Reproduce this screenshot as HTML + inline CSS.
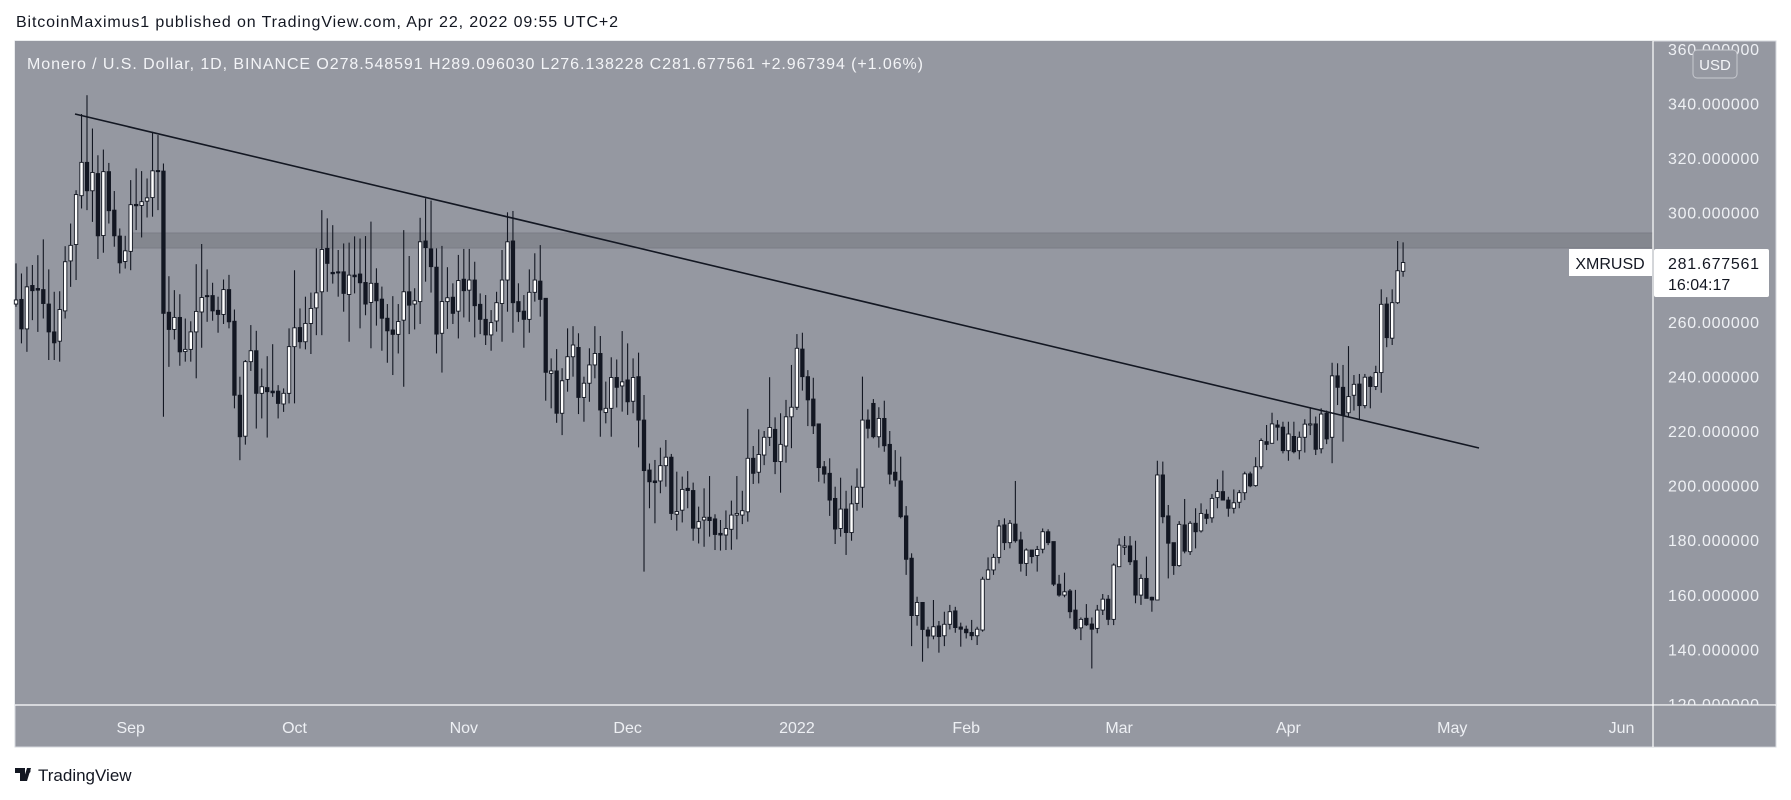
<!DOCTYPE html>
<html><head><meta charset="utf-8"><style>
html,body{margin:0;padding:0;background:#fff;width:1791px;height:800px;overflow:hidden}
svg{display:block}
text{font-family:"Liberation Sans",sans-serif}
</style></head><body>
<svg id="c" width="1791" height="800" viewBox="0 0 1791 800" xmlns="http://www.w3.org/2000/svg">
<text x="16" y="27" font-size="16" fill="#131722" textLength="602">BitcoinMaximus1 published on TradingView.com, Apr 22, 2022 09:55 UTC+2</text>
<rect x="15" y="41" width="1761" height="706" fill="#9598a1" stroke="#d6d8de" stroke-width="1"/>
<rect x="15" y="41" width="1638" height="664" fill="#9598a1"/>
<rect x="132" y="233" width="1521" height="15" fill="#84878f"/>
<line x1="132" y1="233" x2="1653" y2="233" stroke="#7a7d86"/>
<line x1="132" y1="248" x2="1653" y2="248" stroke="#7a7d86"/>
<g id="candles"></g>
<line x1="75" y1="114" x2="1479" y2="448" stroke="#131722" stroke-width="1.6"/>
<line x1="1653" y1="41" x2="1653" y2="747" stroke="#fff" stroke-width="1.2"/>
<line x1="15" y1="705" x2="1776" y2="705" stroke="#fff" stroke-width="1.2"/>
<g id="yaxis"></g>
<g id="xaxis"></g>
<text x="27" y="69" font-size="16" fill="#f3f4f7" textLength="896">Monero / U.S. Dollar, 1D, BINANCE  O278.548591  H289.096030  L276.138228  C281.677561  +2.967394 (+1.06%)</text>
<rect x="1693" y="50" width="44" height="28" rx="4" fill="#9598a1" stroke="#c8cad0"/>
<text x="1715" y="70" font-size="15" fill="#f3f4f7" text-anchor="middle">USD</text>
<rect x="1569" y="249" width="83" height="27" fill="#fff"/>
<text x="1610" y="269" font-size="16" fill="#131722" text-anchor="middle">XMRUSD</text>
<rect x="1654" y="249" width="115" height="48" rx="2" fill="#fff"/>
<text x="1668" y="269" font-size="16" fill="#131722" textLength="91">281.677561</text>
<text x="1668" y="290" font-size="16" fill="#131722">16:04:17</text>
<g>
<path d="M15 768h10v13h-5v-8h-5z M27 768h4l-4 13h-4z" fill="#131722"/>
<circle cx="28.5" cy="771" r="2" fill="#131722"/>
<text x="38" y="781" font-size="17" fill="#131722">TradingView</text>
</g>
</svg>
<script>
const opens=[266.5,268.2,257.4,273.3,272.2,271.8,266.5,256.3,252.9,264.0,282.3,288.3,306.2,318.4,308.0,314.3,291.6,315.0,300.9,291.4,282.1,285.8,303,302.6,304.2,305.5,315.4,315.2,263.5,257.2,261.6,249.1,249.9,256.3,263.6,269.6,269.6,264.2,262.7,271.8,260.2,233.1,218.1,245.4,249.4,233.8,235.9,234.6,234.6,229.9,233.8,250.9,257.9,252.7,259.4,265.1,271.0,286.9,278.1,278.3,278.3,270.0,277.1,277.5,274.4,267.1,274.1,268.3,261.3,257.0,255.4,260.6,271.0,266.5,267.4,289.6,286.7,280.0,255.8,267.4,269.0,263.9,275.6,271.6,275.3,266.4,260.9,255.2,260.3,266.7,275.3,289.6,267.4,263.9,260.9,270.8,274.9,268.6,241.1,242.0,226.5,238.9,247.2,250.6,232.3,237.5,244.2,248.4,226.8,228.3,239.6,236.5,238.7,230.9,239.9,224.0,205.7,201.7,201.7,207.3,210.4,189.5,191.0,199.0,198.2,184.4,187.4,188.4,187.8,182.5,181.9,184.0,189.2,189.2,190.4,210.0,204.9,211.2,217.7,220.6,208.8,214.5,225.2,228.7,250.0,239.9,231.7,222.6,206.9,204.5,195.3,184.3,191.4,182.8,193.5,199.4,224.0,230.1,217.9,224.6,215.1,204.9,201.7,188.9,173.4,152.4,157.2,147.1,144.9,148.6,145.0,149.2,154.1,148.2,147.4,146.2,145.0,147.1,165.7,169.1,173.7,185.6,179.1,185.9,180.1,171.5,176.4,174.4,176.7,183.1,179.5,163.9,159.9,161.4,154.4,147.9,151.4,149.3,147.7,154.4,158.4,151.0,170.3,177.4,177.9,172.5,159.9,166.0,159.1,158.1,203.9,188.9,179.1,170.7,185.6,175.8,186.2,183.4,189.5,188.2,195.6,197.8,194.7,191.7,193.9,197.4,204.3,200.0,206.9,216.1,215.5,222.2,221.4,212.8,218.0,212.8,217.7,222.2,222.6,213.5,226.5,217.7,240.2,236.0,226.7,233.1,237.2,229.3,239.7,236.3,241.4,266.5,254.0,267.0,278.5];
const closes=[268,257.4,272.8,271.4,271.6,266.7,256.3,252.3,264.5,282.0,288.0,306.6,318.4,308.0,314.7,291.5,315.0,300.7,291.5,281.6,286.0,302.9,302.5,304.0,305.4,315.3,315.0,263.1,257.2,261.6,249.0,249.9,256.3,263.8,268.9,269.2,264.0,262.7,271.8,260.0,233.1,217.9,245.4,249.4,233.8,236.2,234.4,234.0,230.1,233.8,250.9,257.8,252.7,259.4,264.9,270.6,286.5,281.4,277.6,277.9,270.4,277.1,276.5,274.3,266.5,274.1,267.7,261.3,256.7,255.4,260.1,271.0,266.1,267.7,289.3,287.2,280.2,255.5,267.4,268.8,263.1,275.1,271.4,275.3,265.9,260.9,255.2,259.7,267.0,275.3,289.3,267.0,263.7,260.9,270.8,275.3,268.2,241.5,242.0,226.5,238.4,247.2,251.5,232.3,237.5,244.2,248.4,227.7,228.3,239.6,236.0,238.0,230.7,239.6,224.0,205.5,201.4,201.1,207.3,210.4,189.8,190.5,198.6,198.2,184.4,186.8,188.4,187.2,182.1,181.9,184.3,189.2,189.8,190.8,210.0,204.5,211.4,217.7,221.3,208.8,215.1,225.2,228.7,250.3,239.9,231.4,221.9,206.6,204.2,194.7,184.1,191.4,182.8,193.3,199.4,224.0,221.0,217.9,224.6,214.6,204.2,202.0,188.6,173.0,152.4,157.2,147.3,144.9,148.3,144.7,149.2,153.8,148.0,147.4,146.1,145.0,147.4,165.7,169.1,173.7,185.2,179.1,186.2,179.8,171.5,176.4,174.0,176.6,183.1,179.1,163.9,159.9,161.1,153.8,147.7,151.0,149.0,147.4,154.4,158.4,151.0,170.9,178.2,177.9,172.1,159.9,166.0,158.7,158.1,203.9,188.6,178.9,170.7,185.8,176.0,186.2,183.1,189.8,188.0,195.3,197.8,194.7,191.7,193.7,197.4,204.3,199.9,206.9,216.5,215.1,222.6,221.4,212.8,218.9,212.4,217.7,222.5,222.6,213.3,226.2,217.1,240.2,236.0,225.9,232.6,237.1,229.3,239.7,236.3,241.4,266.4,254.2,267.0,278.7,281.7];
const highs=[281.4,277.7,280.2,280.8,284.4,290.2,279.2,271.0,271.2,287.7,296.0,308.2,336.1,343,330.8,321.0,323.1,318.2,307.9,294.2,291.5,311.9,316.2,315.2,312.5,329.6,328.4,318.0,276.7,271.6,270.1,261.2,260.2,281.1,288.5,279.2,274.3,269.2,275.5,277.2,264.5,239.9,246,258.8,256.7,242.9,247.4,251.8,236.8,235.6,257.6,278.9,264.9,269.2,270.7,286.9,300.9,297.9,295.4,286.3,288.7,289,291.3,290.5,291.4,296.7,279.6,272.9,266.5,269.4,266.5,293.6,284.1,272.3,298.1,305.2,304.4,286.9,287.8,280,274.1,284.5,286.7,286.7,282.0,270.4,269.8,264.3,271.0,286.3,300.1,300.6,274.1,269.8,279.2,285.1,288.1,268.6,246.6,250.0,243.0,257.6,258.4,255.8,239.9,250.3,258.4,254.8,238.1,247.0,246.2,256.6,252.1,246.6,248.7,233.2,208.1,209.4,213.9,216.7,211.6,205.1,203.3,205.3,201.1,192.3,199.0,203.5,189.5,187.4,190.9,194.5,203.5,198.1,228.1,214.5,220.6,220.0,239.7,225.0,226.5,231.4,244.2,255.5,256.0,242.3,239.5,222.6,209.0,210.0,199.6,202.9,198.1,200.0,206.3,239.9,227.9,231.7,228.7,231.1,220.0,213.0,210.6,192.5,175.2,159.3,157.2,148.3,158.1,150.4,153.8,156.3,155.6,149.8,148.7,150.8,148.3,166.6,173.7,175.0,187.4,188.0,187.4,201.7,183.1,177.0,176.4,177.9,184.3,184.0,179.5,167.3,168.1,162.1,161.8,151.7,156.6,151.7,156.3,160.3,159.9,171.5,180.7,181.5,181.5,179.8,167.5,174.0,159.3,209.1,208.8,192.9,179.1,187.0,195.1,187.0,191.7,193.5,191.3,196.9,202.3,205.5,195.9,198.6,198.4,205.1,205.1,210.4,217.3,222.2,226.7,224.0,223.4,223.4,223.4,219.8,224.3,228.7,225.3,228.3,227.5,245.0,244.8,244.2,251.1,240.5,240.9,240.9,240.2,243.9,271.9,269.0,271.9,289.6,289.1];
const lows=[265.5,252.1,249.0,260.6,256.3,261.2,246.0,246.0,245.4,261.2,272.8,275.3,301.5,300.9,296.6,283.0,285.3,296.0,287.5,277.7,279.5,278.9,293.6,290.9,298.2,298.5,300.9,225.2,243.5,253.5,243.9,245.4,245.4,239.3,250.5,260.0,260.4,256.0,259.2,257.6,228.3,209.3,215,242,220.9,224.6,217.6,232.5,224.6,227.0,230.1,230.1,250.2,249.9,248.2,255.1,255.1,271.0,274.0,269.2,263.7,252.7,270.4,257.6,262.4,250.3,258.6,249.4,245.0,240.5,248.4,236.2,255.5,257.2,259.2,274.7,270.7,248.4,241.4,257.4,259.2,253.9,261.6,260.0,254.3,255.5,251.5,249.4,256.4,252.7,263.7,256.0,260.0,250.5,256.0,267.4,261.9,231.1,228.3,223.0,218.5,234.4,239.9,226.2,223.4,230.7,239.3,217.9,222.8,217.9,228.6,227.1,225.9,226.5,214.0,168.5,191.7,186.2,197.2,199.6,187.4,183.5,186.5,191.7,179.8,178.8,177.6,181.3,176.4,176.2,176.4,176.5,180.3,185.9,186.8,200.6,200.8,207.5,214.5,204.2,197.4,208.4,213.7,227.7,234.8,221.8,218.9,201.4,200.8,188.9,178.6,181.3,174.6,179.8,190.8,191.9,217.3,217.3,213.9,212.4,200.5,199.6,188.0,167.3,141.2,148.7,135.5,140.4,143.7,138.8,141.2,147.3,146.1,141.0,144.0,143.4,141.6,146.5,165.5,167.3,171.5,176.4,177.0,179.1,168.5,166.9,171.5,168.5,175.2,178.2,163.2,159.3,159.1,151.4,147.1,143.4,148.6,133.0,145.9,152.6,148.9,148.9,170.3,174.6,170.9,156.9,156.3,158.7,153.8,158.1,186.2,166.0,167.3,170.3,175.2,174.6,177.0,182.8,185.9,186.4,191.7,194.7,188.6,189.8,191.7,194.7,199.4,199.6,206.0,213.0,215.5,216.5,211.8,209.1,211.8,209.6,212.1,218.5,211.2,211.8,215.2,208.2,229.5,216.1,225.3,227.5,224.0,228.3,228.3,235.0,234.0,250.7,251.5,266.5,276.5];
const priceTicks=[120,140,160,180,200,220,240,260,280,300,320,340,360];
const timeLabels=["Sep","Oct","Nov","Dec","2022","Feb","Mar","Apr","May","Jun"];
const timeLabelIdx=[21,51,82,112,143,174,202,233,263,294];

const NS="http://www.w3.org/2000/svg";
function yScale(v){return 431-(v-220)*2.73;}
function xScale(i){return 16+5.461*i;}
function mk(tag,attrs,parent){const e=document.createElementNS(NS,tag);for(const k in attrs)e.setAttribute(k,attrs[k]);parent.appendChild(e);return e;}

const cg=document.getElementById('candles');
for(let i=0;i<closes.length;i++){
  const x=xScale(i),o=opens[i],c=closes[i],up=c>=o;
  const g=mk('g',{},cg);
  
  
  const w=mk('line',{x1:x,x2:x,y1:yScale(highs[i]),y2:yScale(lows[i]),stroke:'#131722','stroke-width':1.1},g);
  
  
  const top=yScale(Math.max(o,c)),bot=yScale(Math.min(o,c));
  const b=mk('rect',{x:x-1.7,y:top,width:3.4,height:Math.max(1,bot-top),fill:up?'#ffffff':'#131722',stroke:'#131722','stroke-width':0.9},g);
  
  
}

const ya=document.getElementById('yaxis');
for(const v of priceTicks){
  const t=mk('text',{x:1668,y:yScale(v)+6,'font-size':16,fill:'#eef0f4',textLength:91},ya);
  t.textContent=v.toFixed(6);
  
  
}
// mask clipped edges above/below axis area
mk('rect',{x:1654,y:705.6,width:121,height:41,fill:'#9598a1'},ya);

const xa=document.getElementById('xaxis');
for(let k=0;k<timeLabels.length;k++){
  const t=mk('text',{x:xScale(timeLabelIdx[k]),y:733,'font-size':16,fill:'#eef0f4','text-anchor':'middle'},xa);
  t.textContent=timeLabels[k];
  
  
}
</script>
</body></html>
